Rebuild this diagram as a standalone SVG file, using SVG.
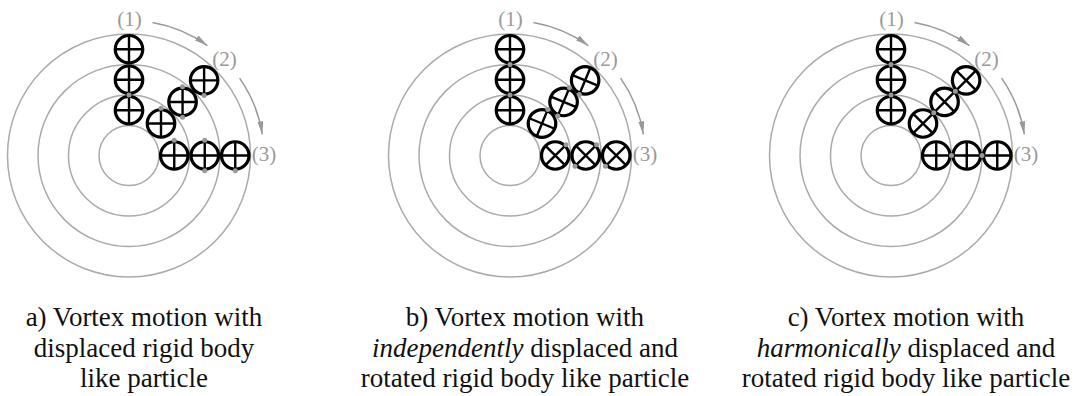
<svg xmlns="http://www.w3.org/2000/svg" xmlns:xlink="http://www.w3.org/1999/xlink" width="1088" height="396" viewBox="0 0 1088 396">
<style>
.ring{fill:none;stroke:#aaa;stroke-width:1.5}
.arc{fill:none;stroke:#999;stroke-width:1.5;marker-end:url(#ah)}
.lbl{font-family:"Liberation Serif",serif;font-size:21px;fill:#999}
.dot{fill:#999}
.cap{font-family:"Liberation Serif",serif;font-size:27px;fill:#111;text-anchor:middle}
.it{font-style:italic}
</style>
<defs>
<marker id="ah" viewBox="0 0 13 6" refX="13" refY="3" markerWidth="13" markerHeight="6" markerUnits="userSpaceOnUse" orient="auto">
<path d="M0,0 L13,3 L0,6 z" fill="#999"/>
</marker>
<g id="pp">
<circle r="13.75" fill="#fff" stroke="#000" stroke-width="3.2"/>
<path d="M-13.75,0 H13.75 M0,-13.75 V13.75" stroke="#000" stroke-width="2.4"/>
</g>
<g id="rings">
<circle class="ring" r="30"/>
<circle class="ring" r="60.5"/>
<circle class="ring" r="91"/>
<circle class="ring" r="121.5"/>
</g>
<g id="arrows">
<path class="arc" d="M23.44,-132.95 A135,135 0 0 1 78.39,-109.91"/>
<path class="arc" d="M110.59,-77.43 A135,135 0 0 1 133.34,-21.12"/>
<text class="lbl" x="0.5" y="-129.5" text-anchor="middle">(1)</text>
<text class="lbl" x="95.5" y="-89.5" text-anchor="middle">(2)</text>
<text class="lbl" x="122.7" y="5.5">(3)</text>
</g>
</defs>

<g id="panel-a" transform="translate(129,155.5)">
<use xlink:href="#rings"/>
<g class="connectors"><use xlink:href="#arrows"/></g>
<use xlink:href="#pp" transform="translate(0,-45.25)"/>
<use xlink:href="#pp" transform="translate(0,-75.75)"/>
<use xlink:href="#pp" transform="translate(0,-106.25)"/>
<use xlink:href="#pp" transform="translate(32,-32)"/>
<use xlink:href="#pp" transform="translate(53.56,-53.56)"/>
<use xlink:href="#pp" transform="translate(75.13,-75.13)"/>
<use xlink:href="#pp" transform="translate(45.25,0)"/>
<use xlink:href="#pp" transform="translate(75.75,0)"/>
<use xlink:href="#pp" transform="translate(106.25,0)"/>
<circle class="dot" cx="0" cy="-60.5" r="2.5"/>
<circle class="dot" cx="32" cy="-47.25" r="2.5"/>
<circle class="dot" cx="53.56" cy="-68.81" r="2.5"/>
<circle class="dot" cx="53.56" cy="-38.31" r="2.5"/>
<circle class="dot" cx="75.13" cy="-59.88" r="2.5"/>
<circle class="dot" cx="45.25" cy="-15.25" r="2.5"/>
<circle class="dot" cx="75.75" cy="-15.25" r="2.5"/>
<circle class="dot" cx="75.75" cy="15.25" r="2.5"/>
<circle class="dot" cx="106.25" cy="15.25" r="2.5"/>
</g>

<g id="panel-b" transform="translate(510,155.5)">
<use xlink:href="#rings"/>
<g class="connectors"><use xlink:href="#arrows"/></g>
<use xlink:href="#pp" transform="translate(0,-45.25)"/>
<use xlink:href="#pp" transform="translate(0,-75.75)"/>
<use xlink:href="#pp" transform="translate(0,-106.25)"/>
<use xlink:href="#pp" transform="translate(32,-32) rotate(22.5)"/>
<use xlink:href="#pp" transform="translate(53.56,-53.56) rotate(22.5)"/>
<use xlink:href="#pp" transform="translate(75.13,-75.13) rotate(22.5)"/>
<use xlink:href="#pp" transform="translate(45.25,0) rotate(45)"/>
<use xlink:href="#pp" transform="translate(75.75,0) rotate(45)"/>
<use xlink:href="#pp" transform="translate(106.25,0) rotate(45)"/>
<circle class="dot" cx="0" cy="-60.5" r="2.5"/>
<circle class="dot" cx="0" cy="-91" r="2.5"/>
<circle class="dot" cx="37.84" cy="-46.09" r="2.5"/>
<circle class="dot" cx="59.4" cy="-67.65" r="2.5"/>
<circle class="dot" cx="47.72" cy="-39.47" r="2.5"/>
<circle class="dot" cx="69.29" cy="-61.04" r="2.5"/>
<circle class="dot" cx="56.03" cy="-10.78" r="2.5"/>
<circle class="dot" cx="86.53" cy="-10.78" r="2.5"/>
<circle class="dot" cx="64.97" cy="10.78" r="2.5"/>
<circle class="dot" cx="95.47" cy="10.78" r="2.5"/>
</g>

<g id="panel-c" transform="translate(891,155.5)">
<use xlink:href="#rings"/>
<g class="connectors"><use xlink:href="#arrows"/></g>
<use xlink:href="#pp" transform="translate(0,-45.25)"/>
<use xlink:href="#pp" transform="translate(0,-75.75)"/>
<use xlink:href="#pp" transform="translate(0,-106.25)"/>
<use xlink:href="#pp" transform="translate(32,-32) rotate(45)"/>
<use xlink:href="#pp" transform="translate(53.56,-53.56) rotate(45)"/>
<use xlink:href="#pp" transform="translate(75.13,-75.13) rotate(45)"/>
<use xlink:href="#pp" transform="translate(45.25,0) rotate(90)"/>
<use xlink:href="#pp" transform="translate(75.75,0) rotate(90)"/>
<use xlink:href="#pp" transform="translate(106.25,0) rotate(90)"/>
<circle class="dot" cx="0" cy="-60.5" r="2.5"/>
<circle class="dot" cx="0" cy="-91" r="2.5"/>
<circle class="dot" cx="42.78" cy="-42.78" r="2.5"/>
<circle class="dot" cx="64.35" cy="-64.35" r="2.5"/>
<circle class="dot" cx="60.5" cy="0" r="2.5"/>
<circle class="dot" cx="91" cy="0" r="2.5"/>
</g>

<g id="caption-a">
<text class="cap" x="144" y="326">a) Vortex motion with</text>
<text class="cap" x="144" y="356.5">displaced rigid body</text>
<text class="cap" x="144" y="387">like particle</text>
</g>
<g id="caption-b">
<text class="cap" x="525" y="326">b) Vortex motion with</text>
<text class="cap" x="525" y="356.5"><tspan class="it">independently</tspan> displaced and</text>
<text class="cap" x="525" y="387">rotated rigid body like particle</text>
</g>
<g id="caption-c">
<text class="cap" x="906" y="326">c) Vortex motion with</text>
<text class="cap" x="906" y="356.5"><tspan class="it">harmonically</tspan> displaced and</text>
<text class="cap" x="906" y="387">rotated rigid body like particle</text>
</g>
</svg>
